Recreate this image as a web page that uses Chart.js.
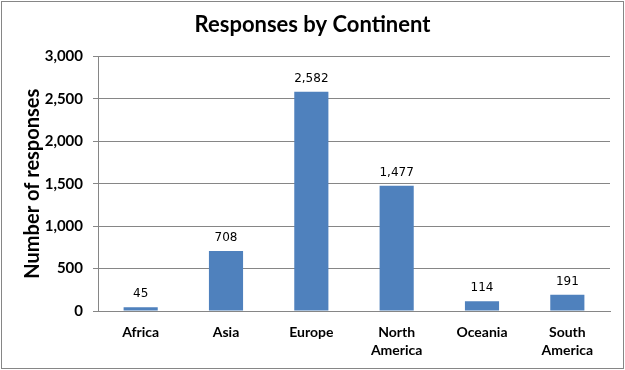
<!DOCTYPE html>
<html>
<head>
<meta charset="utf-8">
<script src="https://cdn.jsdelivr.net/npm/chart.js@4/dist/chart.umd.min.js"></script>
<style>
    html, body { margin: 0; padding: 0; background: #fff; }
    #wrap { width: 625px; height: 370px; position: relative; }
</style>
</head>
<body>
<div id="wrap"><canvas id="chart" width="625" height="370"></canvas></div>
<script>
const continents = [['Africa'], ['Asia'], ['Europe'], ['North', 'America'], ['Oceania'], ['South', 'America']];
const responses = [45, 708, 2582, 1477, 114, 191];
const yTicks = [0, 500, 1000, 1500, 2000, 2500, 3000];

const fontFamily = 'Lato, "Open Sans", sans-serif';
const lineColor = '#868686';

// value labels above each bar
const barLabels = {
    id: 'barLabels',
    afterDatasetsDraw(chart) {
        const ctx = chart.ctx;
        const meta = chart.getDatasetMeta(0);
        ctx.save();
        ctx.font = '12px "DejaVu Sans", Verdana, sans-serif';
        ctx.fillStyle = '#000';
        ctx.textAlign = 'center';
        ctx.textBaseline = 'bottom';
        meta.data.forEach((bar, i) => {
            ctx.fillText(responses[i].toLocaleString('en-US'), bar.x, bar.y - 7);
        });
        ctx.restore();
    }
};

// grey frame round the whole chart
const frame = {
    id: 'frame',
    afterDraw(chart) {
        const ctx = chart.ctx;
        ctx.save();
        ctx.strokeStyle = lineColor;
        ctx.lineWidth = 1;
        ctx.strokeRect(1.5, 1.5, chart.width - 3, chart.height - 3);
        ctx.restore();
    }
};

new Chart(document.getElementById('chart'), {
    type: 'bar',
    data: {
        labels: continents,
        datasets: [{
            data: responses,
            backgroundColor: '#4F81BD',
            barPercentage: 0.4,
            categoryPercentage: 1
        }]
    },
    options: {
        responsive: false,
        animation: false,
        layout: { padding: { left: 15, right: 15, top: 0, bottom: 0 } },
        plugins: {
            legend: { display: false },
            tooltip: { enabled: false },
            title: {
                display: true,
                text: 'Responses by Continent',
                color: '#000',
                font: { family: fontFamily, size: 22, weight: 'bold' },
                padding: { top: 12, bottom: 18 }
            }
        },
        scales: {
            x: {
                grid: { display: false, drawTicks: false, tickLength: 0 },
                border: { display: true, color: lineColor },
                ticks: {
                    color: '#000',
                    padding: 12,
                    maxRotation: 0,
                    font: { family: fontFamily, size: 14, weight: 'bold', lineHeight: 1.3 }
                },
                afterFit(scale) { scale.height = 59; }
            },
            y: {
                min: 0,
                max: 3000,
                afterBuildTicks(scale) { scale.ticks = yTicks.map(v => ({ value: v })); },
                grid: { color: lineColor, tickLength: 5 },
                border: { display: true, color: lineColor },
                ticks: {
                    color: '#000',
                    padding: 10,
                    font: { family: fontFamily, size: 15, weight: 'bold' },
                    callback: v => v.toLocaleString('en-US')
                },
                title: {
                    display: true,
                    text: 'Number of responses',
                    color: '#000',
                    font: { family: fontFamily, size: 20, weight: 'bold' },
                    padding: { top: 6, bottom: 0 }
                },
                afterFit(scale) { scale.width = 83; }
            }
        }
    },
    plugins: [barLabels, frame]
});
</script>
</body>
</html>
